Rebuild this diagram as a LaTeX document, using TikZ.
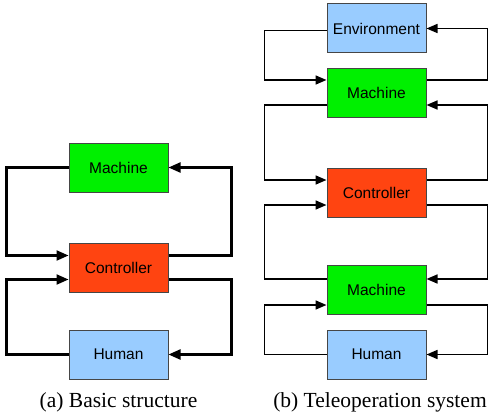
\documentclass[tikz,border=0pt]{standalone}
\usepackage{fontspec}
\setmainfont{Liberation Serif}
\newfontfamily\boxfont{Liberation Sans}
\usetikzlibrary{arrows.meta}
\definecolor{mgreen}{RGB}{0,240,0}
\definecolor{corange}{RGB}{255,68,17}
\definecolor{hblue}{RGB}{153,204,255}
\definecolor{bordergray}{RGB}{70,70,70}
\tikzset{
  blockbox/.style={draw=bordergray, line width=1pt, minimum width=99pt, minimum height=49pt,
    inner sep=0pt, font=\boxfont\fontsize{15.5}{18}\selectfont},
  conna/.style={line width=2.2pt, -{Triangle[length=12pt,width=10pt]}},
  connb/.style={line width=1.6pt, -{Triangle[length=11pt,width=9pt]}},
  captext/.style={font=\fontsize{21.5}{25}\selectfont, inner sep=0pt, anchor=base}
}
\begin{document}
\begin{tikzpicture}[x=1pt,y=-1pt]
\useasboundingbox (0,0) rectangle (489,417);
% (a)
\node[blockbox, fill=mgreen] (ma) at (118.5,167.5) {Machine};
\node[blockbox, fill=corange] (ca) at (118.5,267.5) {Controller};
\node[blockbox, fill=hblue] (ha) at (118.5,354.5) {Human};
\draw[conna] (ma.west) -- ++(-62,0) |- ([yshift=12pt]ca.west);
\draw[conna] ([yshift=12pt]ca.east) -- ++(63,0) |- (ma.east);
\draw[conna] ([yshift=-12pt]ca.east) -- ++(63,0) |- (ha.east);
\draw[conna] (ha.west) -- ++(-62,0) |- ([yshift=-12pt]ca.west);
\node[captext] (capa) at (118.5,407) {(a) Basic structure};
% (b)
\node[blockbox, fill=hblue] (env) at (376.5,28.5) {Environment};
\node[blockbox, fill=mgreen] (m1) at (376.5,93) {Machine};
\node[blockbox, fill=corange] (ct) at (376.5,192.5) {Controller};
\node[blockbox, fill=mgreen] (m2) at (376.5,289.5) {Machine};
\node[blockbox, fill=hblue] (hu) at (376.5,354.5) {Human};
\draw[connb] ([yshift=-2pt]env.west) -- ++(-62,0) |- ([yshift=13pt]m1.west);
\draw[connb] ([yshift=13pt]m1.east) -- ++(61,0) |- (env.east);
\draw[connb] ([yshift=-12pt]m1.west) -- ++(-62,0) |- ([yshift=12.5pt]ct.west);
\draw[connb] ([yshift=12.5pt]ct.east) -- ++(61,0) |- ([yshift=-12pt]m1.east);
\draw[connb] ([yshift=-12.5pt]ct.east) -- ++(61,0) |- ([yshift=10.5pt]m2.east);
\draw[connb] ([yshift=10.5pt]m2.west) -- ++(-62,0) |- ([yshift=-12.5pt]ct.west);
\draw[connb] ([yshift=-15.5pt]m2.east) -- ++(61,0) |- (hu.east);
\draw[connb] (hu.west) -- ++(-62,0) |- ([yshift=-15.5pt]m2.west);
\node[captext] (capb) at (380,407) {(b) Teleoperation system};
\end{tikzpicture}
\end{document}
